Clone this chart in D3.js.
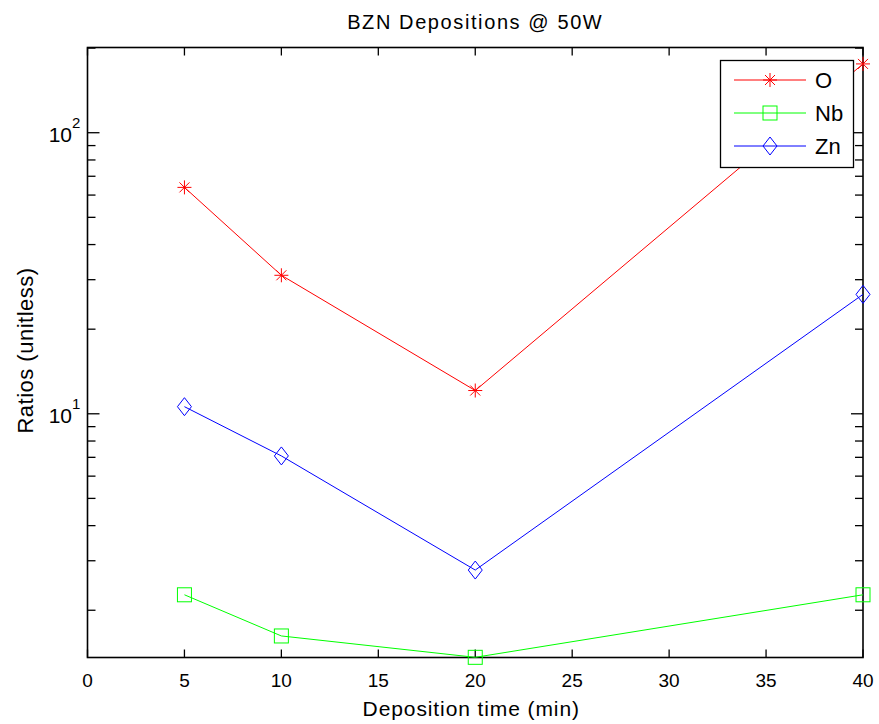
<!DOCTYPE html>
<html>
<head>
<meta charset="utf-8">
<script src="https://cdn.jsdelivr.net/npm/d3@7"></script>
<style>
  body { margin: 0; background: #fff; }
  svg { display: block; font-family: "Liberation Sans", Arial, Helvetica, sans-serif; }
</style>
</head>
<body>
<script>
// deposition times (min)
const times = [5, 10, 20, 40];
// ratio series
const oValues = [63.9, 31.1, 12.1, 175.7];
const nbValues = [2.27, 1.62, 1.36, 2.27];
const znValues = [10.6, 7.08, 2.78, 26.6];
const seriesNames = ["O", "Nb", "Zn"];
const seriesColors = ["#ff0000", "#00ff00", "#0000ff"];
const seriesMarkers = ["star", "square", "diamond"];
const xTicks = [0, 5, 10, 15, 20, 25, 30, 35, 40];
const yMajor = [10, 100];
const yMinor = [2, 3, 4, 5, 6, 7, 8, 9, 20, 30, 40, 50, 60, 70, 80, 90, 200];

const width = 879, height = 724;
const axLeft = 87.5, axRight = 863, axTop = 47.5, axBottom = 657.5;

const svg = d3.select("body").append("svg")
  .attr("width", width)
  .attr("height", height);

const x = d3.scaleLinear().domain([0, 40]).range([axLeft, axRight]);
const y = d3.scaleLog().domain([1.358, 201]).range([axBottom, axTop]);

const series = [oValues, nbValues, znValues].map((vals, i) => ({
  name: seriesNames[i],
  color: seriesColors[i],
  marker: seriesMarkers[i],
  points: times.map((t, j) => [t, vals[j]])
}));

// axes box
svg.append("rect")
  .attr("x", axLeft).attr("y", axTop)
  .attr("width", axRight - axLeft).attr("height", axBottom - axTop)
  .attr("fill", "#fff")
  .attr("stroke", "#000")
  .attr("stroke-width", 1.6);

// ticks, inward on all four sides
const ticks = svg.append("g").attr("stroke", "#000").attr("stroke-width", 1.3);
xTicks.forEach(t => {
  ticks.append("line").attr("x1", x(t)).attr("x2", x(t)).attr("y1", axBottom).attr("y2", axBottom - 8);
  ticks.append("line").attr("x1", x(t)).attr("x2", x(t)).attr("y1", axTop).attr("y2", axTop + 8);
});
yMajor.forEach(v => {
  ticks.append("line").attr("x1", axLeft).attr("x2", axLeft + 12).attr("y1", y(v)).attr("y2", y(v));
  ticks.append("line").attr("x1", axRight).attr("x2", axRight - 12).attr("y1", y(v)).attr("y2", y(v));
});
yMinor.forEach(v => {
  ticks.append("line").attr("x1", axLeft).attr("x2", axLeft + 8).attr("y1", y(v)).attr("y2", y(v));
  ticks.append("line").attr("x1", axRight).attr("x2", axRight - 8).attr("y1", y(v)).attr("y2", y(v));
});

// x tick labels
svg.append("g").selectAll("text")
  .data(xTicks)
  .join("text")
  .attr("x", d => x(d))
  .attr("y", 687)
  .attr("text-anchor", "middle")
  .style("font-size", "19px")
  .text(d => d);

// y tick labels 10^n
svg.append("g").selectAll("text")
  .data(yMajor)
  .join("text")
  .attr("x", 72)
  .attr("y", d => y(d) + 9)
  .attr("text-anchor", "end")
  .style("font-size", "21px")
  .text("10");
svg.append("g").selectAll("text")
  .data(yMajor)
  .join("text")
  .attr("x", 72)
  .attr("y", d => y(d) - 5)
  .style("font-size", "15px")
  .text(d => Math.round(Math.log10(d)));

// title and axis labels
svg.append("text")
  .attr("x", (axLeft + axRight) / 2).attr("y", 29)
  .attr("text-anchor", "middle")
  .style("font-size", "20px")
  .style("letter-spacing", "1.6px")
  .text("BZN Depositions @ 50W");

svg.append("text")
  .attr("x", (axLeft + axRight) / 2 - 4).attr("y", 716)
  .attr("text-anchor", "middle")
  .style("font-size", "21px")
  .style("letter-spacing", "0.9px")
  .text("Deposition time (min)");

svg.append("text")
  .attr("transform", `translate(33,${(axTop + axBottom) / 2 - 2}) rotate(-90)`)
  .attr("text-anchor", "middle")
  .style("font-size", "22px")
  .style("letter-spacing", "0.5px")
  .text("Ratios (unitless)");

// markers
function drawMarker(g, type, cx, cy, color) {
  if (type === "star") {
    const a = 7, b = 5;
    g.append("path")
      .attr("d", `M${cx - a},${cy}H${cx + a}M${cx},${cy - a}V${cy + a}` +
        `M${cx - b},${cy - b}L${cx + b},${cy + b}M${cx - b},${cy + b}L${cx + b},${cy - b}`)
      .attr("stroke", color).attr("fill", "none").attr("stroke-width", 1);
  } else if (type === "square") {
    g.append("rect")
      .attr("x", cx - 7).attr("y", cy - 7)
      .attr("width", 14).attr("height", 14)
      .attr("stroke", color).attr("fill", "none").attr("stroke-width", 1);
  } else {
    g.append("path")
      .attr("d", `M${cx},${cy - 9}L${cx + 7},${cy}L${cx},${cy + 9}L${cx - 7},${cy}Z`)
      .attr("stroke", color).attr("fill", "none").attr("stroke-width", 1);
  }
}

const line = d3.line().x(d => x(d[0])).y(d => y(d[1]));
const plot = svg.append("g");
series.forEach(s => {
  plot.append("path")
    .attr("d", line(s.points))
    .attr("fill", "none")
    .attr("stroke", s.color)
    .attr("stroke-width", 1);
  s.points.forEach(p => drawMarker(plot, s.marker, x(p[0]), y(p[1]), s.color));
});

// legend
const lg = svg.append("g");
lg.append("rect")
  .attr("x", 720.5).attr("y", 60.5)
  .attr("width", 133).attr("height", 107)
  .attr("fill", "#fff")
  .attr("stroke", "#000")
  .attr("stroke-width", 1.3);
series.forEach((s, i) => {
  const ry = 80 + i * 33;
  lg.append("line")
    .attr("x1", 734).attr("x2", 806).attr("y1", ry).attr("y2", ry)
    .attr("stroke", s.color).attr("stroke-width", 1);
  drawMarker(lg, s.marker, 770, ry, s.color);
  lg.append("text")
    .attr("x", 815).attr("y", ry + 8)
    .style("font-size", "22px")
    .text(s.name);
});
</script>
</body>
</html>
